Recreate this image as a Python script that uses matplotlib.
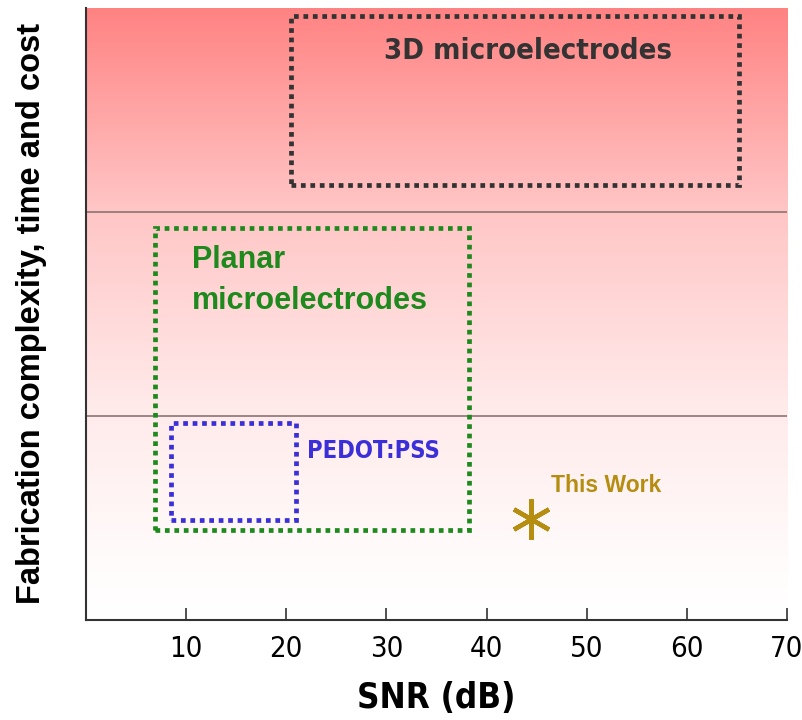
import matplotlib
matplotlib.use("Agg")
import matplotlib.pyplot as plt
import numpy as np
from matplotlib.colors import LinearSegmentedColormap
from matplotlib.patches import Rectangle

# regions: SNR range (dB) and complexity range (0 = low, 3 = high)
region_names = ["3D microelectrodes", "Planar\nmicroelectrodes", "PEDOT:PSS"]
region_snr_lo = [20.5, 6.9, 8.5]
region_snr_hi = [65.2, 38.3, 21.0]
region_cx_lo = [2.13, 0.44, 0.49]
region_cx_hi = [2.96, 1.92, 0.965]
level_lines = [1.0, 2.0]
this_work_snr = [44.4]
this_work_cx = [0.495]
xticks = [10, 20, 30, 40, 50, 60, 70]

NARROW = dict(family=["DejaVu Sans"], stretch="condensed")
BOLD = ["Liberation Sans", "DejaVu Sans"]

fig = plt.figure(figsize=(8.03, 7.2), dpi=100)
ax = fig.add_axes([0.107, 0.139, 0.873, 0.85])
ax.set_xlim(0, 70)
ax.set_ylim(0, 3)

# background gradient, white at bottom to salmon at top
grad_cmap = LinearSegmentedColormap.from_list("bg", [
    (0.0, "#FFFFFF"), (0.1, "#FFFBFB"), (0.35, "#FFEAEA"),
    (0.51, "#FFD8D8"), (0.68, "#FFC4C4"), (0.83, "#FFA6A6"),
    (1.0, "#FF8383")])
grad = np.linspace(0, 1, 300).reshape(-1, 1)
ax.imshow(grad, cmap=grad_cmap, aspect="auto", origin="lower",
          extent=[0, 70, 0, 3], zorder=0)

for y in level_lines:
    ax.axhline(y, color="#8C7373", lw=1.2, zorder=1)

colors = ["#333333", "#1E8A1E", "#3A2FD8"]
for i, c in enumerate(colors):
    r = Rectangle((region_snr_lo[i], region_cx_lo[i]),
                  region_snr_hi[i] - region_snr_lo[i],
                  region_cx_hi[i] - region_cx_lo[i],
                  fill=False, edgecolor=c, lw=3.4,
                  linestyle=(0, (1, 1)), zorder=3)
    ax.add_patch(r)

ax.text(44.1, 2.79, region_names[0], color="#333333", fontsize=21,
        fontweight="bold", ha="center", va="center", **NARROW)
ax.text(10.6, 1.665, region_names[1], color="#1E8A1E", fontsize=22,
        fontweight="bold", family=BOLD, ha="left", va="center",
        linespacing=1.5)
ax.text(22.1, 0.83, region_names[2], color="#3A2FD8", fontsize=17,
        fontweight="bold", ha="left", va="center", **NARROW)

ax.plot(this_work_snr, this_work_cx, linestyle="none", marker=(6, 2, 0),
        markersize=29, markeredgewidth=3.2, color="#B58D10", zorder=4)
ax.text(46.4, 0.66, "This Work", color="#B58D10", fontsize=16.5,
        fontweight="bold", family=BOLD, ha="left", va="center")

for s in ("top", "right"):
    ax.spines[s].set_visible(False)
for s in ("left", "bottom"):
    ax.spines[s].set_color("#333333")
    ax.spines[s].set_linewidth(1.5)

ax.set_yticks([])
ax.set_xticks(xticks)
ax.tick_params(axis="x", direction="in", length=9, width=1.2,
               color="#333333", pad=11, labelsize=21)
for lab in ax.get_xticklabels():
    lab.set_family(NARROW["family"])
    lab.set_stretch("condensed")

ax.set_xlabel("SNR (dB)", fontsize=25, fontweight="bold", **NARROW)
ax.xaxis.set_label_coords(0.5, -0.128)
ax.set_ylabel("Fabrication complexity, time and cost", fontsize=23.5,
              fontweight="bold", family=BOLD)
ax.yaxis.set_label_coords(-0.078, 0.5)
ax.xaxis.label.set_va("center")
ax.yaxis.label.set_va("center")

fig.savefig("out.png", dpi=100)
